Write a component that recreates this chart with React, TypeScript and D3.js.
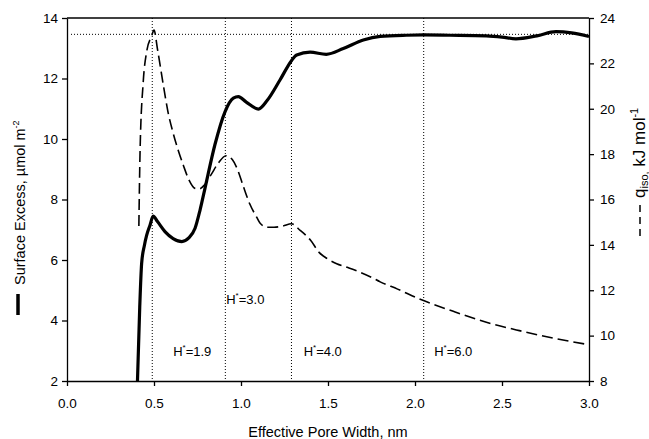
import { useEffect, useRef } from "react";
import * as d3 from "d3";

// effective pore width (nm) vs surface excess (umol m-2), solid line
const seWidth = [0.405, 0.418, 0.429, 0.445, 0.458, 0.477, 0.495, 0.52, 0.563, 0.61, 0.66, 0.7, 0.736, 0.765, 0.793, 0.85, 0.908, 0.956, 0.985, 1.03, 1.1, 1.15, 1.224, 1.29, 1.32, 1.397, 1.49, 1.588, 1.703, 1.8, 1.95, 2.05, 2.2, 2.41, 2.5, 2.58, 2.7, 2.81, 2.9, 3.0];
const surfaceExcess = [2.0, 4.44, 5.89, 6.49, 6.82, 7.15, 7.45, 7.27, 6.94, 6.71, 6.61, 6.73, 7.05, 7.66, 8.37, 9.81, 10.9, 11.35, 11.4, 11.22, 10.99, 11.27, 11.95, 12.59, 12.78, 12.87, 12.8, 12.99, 13.27, 13.39, 13.43, 13.44, 13.43, 13.41, 13.37, 13.31, 13.41, 13.55, 13.51, 13.39];

// isosteric heat (kJ mol-1), dashed line
const qWidth = [0.413, 0.42, 0.438, 0.458, 0.487, 0.5, 0.52, 0.553, 0.582, 0.61, 0.64, 0.668, 0.7, 0.736, 0.76, 0.79, 0.83, 0.87, 0.914, 0.95, 0.98, 1.013, 1.05, 1.09, 1.11, 1.15, 1.19, 1.24, 1.29, 1.34, 1.4, 1.45, 1.49, 1.55, 1.61, 1.68, 1.75, 1.8, 1.9, 2.03, 2.22, 2.41, 2.6, 2.8, 3.0];
const qIso = [14.83, 18.15, 21.17, 22.53, 23.22, 23.47, 22.63, 21.07, 19.8, 18.93, 18.15, 17.52, 16.88, 16.49, 16.47, 16.64, 17.12, 17.61, 17.93, 17.76, 17.32, 16.59, 15.81, 15.22, 14.95, 14.78, 14.78, 14.83, 14.93, 14.64, 14.2, 13.66, 13.42, 13.17, 13.01, 12.81, 12.57, 12.37, 12.05, 11.6, 11.07, 10.59, 10.22, 9.88, 9.6];

const xTicks = [0, 0.5, 1, 1.5, 2, 2.5, 3];
const leftTicks = [2, 4, 6, 8, 10, 12, 14];
const rightTicks = [8, 10, 12, 14, 16, 18, 20, 22, 24];

// H* markers
const markerWidth = [0.49, 0.91, 1.29, 2.05];
const plateau = 13.46;
const hLabels = ["1.9", "3.0", "4.0", "6.0"];
const hLabelX = [0.61, 0.915, 1.36, 2.11];
const hLabelY = [2.83, 4.55, 2.83, 2.83];

const App = () => {
  const ref = useRef<SVGSVGElement>(null);

  useEffect(() => {
    const svg = d3.select(ref.current);
    svg.selectAll("*").remove();

    const width = 649;
    const height = 439;
    const margin = { top: 18, right: 60, bottom: 58, left: 67 };
    const font = "'Liberation Sans', Arial, sans-serif";

    const x = d3.scaleLinear().domain([0, 3]).range([margin.left, width - margin.right]);
    const yL = d3.scaleLinear().domain([2, 14]).range([height - margin.bottom, margin.top]);
    const yR = d3.scaleLinear().domain([8, 24]).range([height - margin.bottom, margin.top]);

    // reference lines
    const g = svg.append("g");
    g.append("line")
      .attr("x1", x(0) + 4).attr("x2", x(3))
      .attr("y1", yL(plateau)).attr("y2", yL(plateau))
      .attr("stroke", "#000").attr("stroke-width", 1).attr("stroke-dasharray", "1,2");
    g.selectAll(".vline")
      .data(markerWidth)
      .join("line")
      .attr("x1", (d) => x(d)).attr("x2", (d) => x(d))
      .attr("y1", margin.top).attr("y2", height - margin.bottom)
      .attr("stroke", "#000").attr("stroke-width", 1).attr("stroke-dasharray", "1,2");

    // curves
    const lineL = d3.line<number>()
      .x((d, i) => x(seWidth[i]))
      .y((d) => yL(d))
      .curve(d3.curveMonotoneX);
    const lineR = d3.line<number>()
      .x((d, i) => x(qWidth[i]))
      .y((d) => yR(d))
      .curve(d3.curveMonotoneX);

    svg.append("path")
      .attr("d", lineR(qIso))
      .attr("fill", "none").attr("stroke", "#000")
      .attr("stroke-width", 1.6).attr("stroke-dasharray", "11,5");
    svg.append("path")
      .attr("d", lineL(surfaceExcess))
      .attr("fill", "none").attr("stroke", "#000")
      .attr("stroke-width", 3.2).attr("stroke-linejoin", "round");

    // frame top
    svg.append("line")
      .attr("x1", margin.left).attr("x2", width - margin.right)
      .attr("y1", margin.top).attr("y2", margin.top)
      .attr("stroke", "#000").attr("stroke-width", 1.3);

    // axes
    const bottom = svg.append("g")
      .attr("transform", `translate(0,${height - margin.bottom})`)
      .call(d3.axisBottom(x).tickValues(xTicks).tickFormat(d3.format(".1f")).tickSize(5).tickSizeOuter(0).tickPadding(12));
    const left = svg.append("g")
      .attr("transform", `translate(${margin.left},0)`)
      .call(d3.axisLeft(yL).tickValues(leftTicks).tickSize(5).tickSizeOuter(0).tickPadding(4));
    const right = svg.append("g")
      .attr("transform", `translate(${width - margin.right},0)`)
      .call(d3.axisRight(yR).tickValues(rightTicks).tickSize(5).tickSizeOuter(0).tickPadding(6));

    [bottom, left, right].forEach((a) => {
      a.attr("font-family", font).attr("font-size", 13.5);
      a.selectAll("path, line").attr("stroke-width", 1.3);
    });

    // H* labels
    const lab = svg.append("g").attr("font-family", font).attr("font-size", 13);
    hLabels.forEach((t, i) => {
      const txt = lab.append("text").attr("x", x(hLabelX[i])).attr("y", yL(hLabelY[i]));
      txt.append("tspan").text("H");
      txt.append("tspan").attr("font-size", 8).attr("dy", -6).text("*");
      txt.append("tspan").attr("dy", 6).text("=" + t);
    });

    // axis titles
    svg.append("text")
      .attr("x", x(1.5)).attr("y", 437)
      .attr("text-anchor", "middle")
      .attr("font-family", font).attr("font-size", 14.5)
      .text("Effective Pore Width, nm");

    const lt = svg.append("g").attr("transform", `translate(25,207) rotate(-90)`);
    lt.append("line").attr("x1", -108).attr("x2", -87).attr("y1", -7).attr("y2", -7)
      .attr("stroke", "#000").attr("stroke-width", 3.5);
    const ltt = lt.append("text").attr("x", -78).attr("y", 0)
      .attr("font-family", font).attr("font-size", 14.5);
    ltt.append("tspan").text("Surface Excess, \u00b5mol m");
    ltt.append("tspan").attr("font-size", 9).attr("dy", -6).text("-2");

    const rt = svg.append("g").attr("transform", `translate(645,0) rotate(-90)`);
    rt.append("line").attr("x1", -236).attr("x2", -204).attr("y1", -5).attr("y2", -5)
      .attr("stroke", "#000").attr("stroke-width", 1.5).attr("stroke-dasharray", "7,5");
    const rtt = rt.append("text").attr("x", -198).attr("y", 0)
      .attr("font-family", font).attr("font-size", 17);
    rtt.append("tspan").text("q");
    rtt.append("tspan").attr("font-size", 11).attr("dy", 3).text("iso,");
    rtt.append("tspan").attr("dy", -3).text(" kJ mol");
    rtt.append("tspan").attr("font-size", 11).attr("dy", -7).text("-1");

    return () => {
      svg.selectAll("*").remove();
    };
  }, []);

  return (
    <svg
      ref={ref}
      width={649}
      height={439}
      style={{ position: "absolute", left: 0, top: 0, background: "#fff" }}
    />
  );
};

export default App;
